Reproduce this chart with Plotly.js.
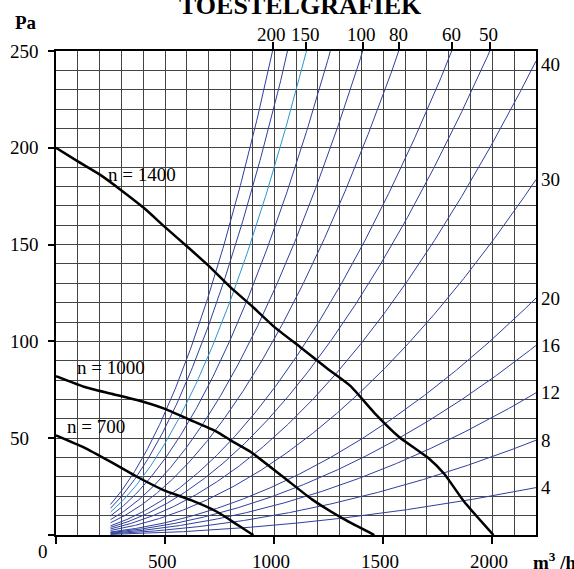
<!DOCTYPE html>
<html>
<head>
<meta charset="utf-8">
<script src="https://cdn.plot.ly/plotly-3.0.1.min.js"></script>
<style>
html,body{margin:0;padding:0;background:#fff;overflow:hidden}
#chart{width:574px;height:569px}
</style>
</head>
<body>
<div id="chart"></div>
<script>
// ---------- data ----------
const titleText = 'TOESTELGRAFIEK';
const yUnit = 'Pa';
const xUnit = 'm<sup>3</sup> /h';
const xRange = [0, 2200];
const yRange = [0, 250];
const xTickVals = [0, 500, 1000, 1500, 2000];
const xTickLabels = ['500', '1000', '1500', '2000'];
const xTickLabelVals = [500, 1000, 1500, 2000];
const yTickVals = [0, 50, 100, 150, 200, 250];
const yTickLabels = ['50', '100', '150', '200', '250'];
const yTickLabelVals = [50, 100, 150, 200, 250];
const originLabel = '0';

// system (resistance) curves: label value; Pa at 2200 m3/h = factor * label
const systemLabels = [4, 8, 12, 16, 20, 30, 40, 50, 60, 80, 100, 125, 150, 175, 200];
const systemPaPerLabel = 6.12;   // Pa per label unit at 2200 m3/h (read)
const systemStartQ = 250;        // m3/h where curves begin
const systemHighlight = 150;     // the light blue curve
const topLabelled = [200, 150, 100, 80, 60, 50];
const rightLabelled = [4, 8, 12, 16, 20, 30, 40];

// fan curves
const fan1400Q  = [0, 100, 203, 300, 402, 500, 601, 700, 799, 900, 1000, 1120, 1243, 1349, 1460, 1574, 1704, 1780, 1872, 2005];
const fan1400Pa = [200, 193, 186, 178, 169, 159, 149, 139, 128, 118, 107.5, 97, 86, 77, 63, 50.5, 40, 31.5, 17, 0];
const fan1000Q  = [0, 127, 249, 371, 493, 616, 738, 799, 891, 1059, 1173, 1324, 1459];
const fan1000Pa = [82, 76.6, 73.1, 69.7, 65.4, 59.4, 53.3, 49, 43, 28.4, 18.4, 7.9, 0];
const fan700Q   = [0, 127, 249, 371, 493, 616, 738, 799, 891, 905];
const fan700Pa  = [51.5, 45.3, 37.9, 30.1, 23.2, 18.1, 12, 7.7, 0.9, 0];
const fanNames  = ['n = 1400', 'n = 1000', 'n = 700'];
const fanLabelQ  = [230, 85, 40];
const fanLabelPa = [186, 86.7, 55.8];

// ---------- styles ----------
const FONT = 'Liberation Serif, Times New Roman, serif';
const GRID = '#444';
const BLUE = '#2f3f9f';
const LIGHTBLUE = '#2b95d0';
const PL = 56, PR = 38, PT = 51, PB = 34, W = 574, H = 569;
const PW = W - PL - PR;
const px2paperX = px => (px - PL) / PW;

// ---------- traces ----------
const traces = [];
const qMax = xRange[1];
systemLabels.forEach(L => {
  const qs = [], ps = [];
  for (let q = systemStartQ; q <= qMax; q += 5) {
    qs.push(q);
    ps.push(systemPaPerLabel * L * (q / qMax) * (q / qMax));
  }
  traces.push({
    x: qs, y: ps, mode: 'lines', hoverinfo: 'skip',
    line: {color: L === systemHighlight ? LIGHTBLUE : BLUE, width: 1}
  });
});
[[fan1400Q, fan1400Pa], [fan1000Q, fan1000Pa], [fan700Q, fan700Pa]].forEach(([q, p]) => {
  traces.push({x: q, y: p, mode: 'lines', hoverinfo: 'skip',
    line: {color: '#000', width: 2.5, shape: 'spline', smoothing: 0.5}});
});
// carrier for the top axis (ticks of labelled curves)
const topQ = topLabelled.map(L => qMax * Math.sqrt(yRange[1] / (systemPaPerLabel * L)));
traces.push({x: [null], y: [null], xaxis: 'x2', yaxis: 'y', mode: 'lines', hoverinfo: 'skip'});

// ---------- annotations ----------
const ann = [];
const txt = (o) => Object.assign({showarrow: false, font: {family: FONT, size: 19, color: '#000'}}, o);
ann.push(txt({text: '<b>' + titleText + '</b>', xref: 'paper', yref: 'paper', x: px2paperX(300), y: 1,
  yanchor: 'middle', xanchor: 'center', yshift: 46, font: {family: FONT, size: 26, color: '#000'}}));
ann.push(txt({text: '<b>' + yUnit + '</b>', xref: 'paper', yref: 'paper', x: px2paperX(25.5), y: 1,
  yanchor: 'middle', xanchor: 'center', yshift: PT - 22.5}));
ann.push(txt({text: '<b>' + xUnit + '</b>', xref: 'paper', yref: 'paper', x: px2paperX(531), y: 0,
  yanchor: 'middle', xanchor: 'left', yshift: -26}));
ann.push(txt({text: originLabel, xref: 'paper', yref: 'paper', x: px2paperX(43), y: 0,
  yanchor: 'middle', xanchor: 'center', yshift: -16}));
yTickLabelVals.forEach((v, i) => ann.push(txt({text: yTickLabels[i], xref: 'paper', yref: 'y',
  x: px2paperX(8), y: v, xanchor: 'left', yanchor: 'middle'})));
xTickLabelVals.forEach((v, i) => ann.push(txt({text: xTickLabels[i], xref: 'x', yref: 'paper',
  x: v, y: 0, xanchor: 'center', yanchor: 'middle', yshift: -26.5, xshift: -3})));
topLabelled.forEach((L, i) => ann.push(txt({text: String(L), xref: 'x', yref: 'paper',
  x: topQ[i], y: 1, xanchor: 'center', yanchor: 'middle', yshift: 17, xshift: -1})));
rightLabelled.forEach(L => ann.push(txt({text: String(L), xref: 'paper', yref: 'y',
  x: 1, y: Math.min(systemPaPerLabel * L, 243), xanchor: 'left', yanchor: 'middle', xshift: 3})));
fanNames.forEach((n, i) => ann.push(txt({text: n, xref: 'x', yref: 'y',
  x: fanLabelQ[i], y: fanLabelPa[i], xanchor: 'left', yanchor: 'middle'})));

// ---------- layout ----------
const axisCommon = {
  showline: true, linecolor: '#000', linewidth: 2, mirror: true,
  zeroline: false, showticklabels: false, ticks: 'outside', tickwidth: 2, tickcolor: '#000',
  showgrid: true, gridcolor: GRID, gridwidth: 1, fixedrange: true, tickmode: 'array'
};
const layout = {
  width: W, height: H,
  margin: {l: PL, r: PR, t: PT, b: PB, pad: 0},
  paper_bgcolor: '#fff', plot_bgcolor: '#fff',
  showlegend: false,
  font: {family: FONT, size: 19, color: '#000'},
  xaxis: Object.assign({}, axisCommon, {range: xRange, tickvals: xTickVals, ticklen: 7,
    minor: {dtick: 100, tick0: 0, showgrid: true, gridcolor: GRID, gridwidth: 1, ticks: ''}}),
  yaxis: Object.assign({}, axisCommon, {range: yRange, tickvals: yTickVals, ticklen: 6,
    minor: {dtick: 10, tick0: 0, showgrid: true, gridcolor: GRID, gridwidth: 1, ticks: ''}}),
  xaxis2: {overlaying: 'x', side: 'top', range: xRange, tickmode: 'array', tickvals: topQ,
    showticklabels: false, ticks: 'outside', ticklen: 8, tickwidth: 2, tickcolor: '#000',
    showgrid: false, showline: false, zeroline: false, fixedrange: true},
  annotations: ann
};

Plotly.newPlot('chart', traces, layout, {staticPlot: true, displayModeBar: false});
</script>
</body>
</html>
